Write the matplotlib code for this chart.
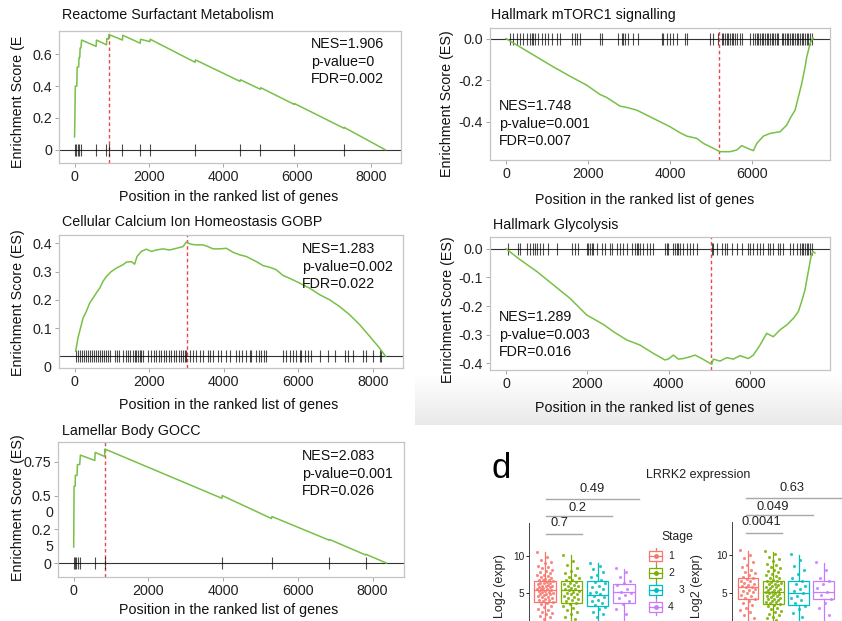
import matplotlib
matplotlib.use("Agg")
import matplotlib.pyplot as plt
import numpy as np
from matplotlib.patches import Rectangle
from matplotlib.colors import LinearSegmentedColormap

plt.rcParams['font.family'] = ['Liberation Sans', 'DejaVu Sans']

# ---------------- GSEA running enrichment scores ----------------
reactome_x = [0, 20, 60, 70, 110, 120, 140, 150, 170, 190, 580, 590, 860, 870, 915, 925,
              1290, 1300, 1770, 1780, 2030, 2040, 3250, 3260, 4460, 4470, 5010, 5020,
              5920, 5930, 7260, 7270, 8370]
reactome_es = [0.08, 0.40, 0.40, 0.52, 0.52, 0.58, 0.58, 0.64, 0.64, 0.69, 0.65, 0.69, 0.66, 0.70,
               0.695, 0.725, 0.69, 0.72, 0.67, 0.695, 0.68, 0.695, 0.55, 0.565, 0.43, 0.44,
               0.38, 0.39, 0.285, 0.29, 0.135, 0.14, 0.0]
reactome_hits = [0, 40, 80, 130, 180, 590, 860, 920, 1290, 1770, 2030, 3250, 4460, 5010, 5920, 7260]

mtorc1_x = [0, 341, 748, 1154, 1561, 1967, 2293, 2455, 2780, 2943, 3187, 3593, 4000, 4244, 4407,
            4650, 4813, 5057, 5219, 5463, 5626, 5748, 5951, 6033, 6114, 6276, 6439, 6683, 6846,
            6927, 7049, 7130, 7211, 7293, 7333, 7415, 7480, 7496]
mtorc1_es = [0, -0.040, -0.088, -0.136, -0.181, -0.224, -0.269, -0.283, -0.325, -0.331, -0.344,
             -0.384, -0.424, -0.453, -0.469, -0.480, -0.504, -0.528, -0.544, -0.544, -0.536,
             -0.515, -0.533, -0.539, -0.504, -0.469, -0.456, -0.448, -0.416, -0.384, -0.344,
             -0.280, -0.216, -0.136, -0.088, -0.024, 0.005, 0.0]
mtorc1_hits = [98, 179, 260, 341, 423, 520, 585, 626, 667, 707, 789, 870, 951, 1033, 1114, 1236,
               1317, 1602, 1683, 1724, 1805, 2293, 2333, 2740, 2821, 2862, 2902, 2984, 3106, 3228,
               3797, 3837, 3919, 4000, 4081, 4163, 4366, 4407, 4976, 5057, 5179, 5260, 5301, 5342,
               5382, 5423, 5463, 5504, 5545, 5585, 5626, 5707, 5748, 5951, 6033, 6073, 6114, 6155,
               6195, 6236, 6276, 6317, 6358, 6398, 6439, 6480, 6520, 6561, 6602, 6642, 6724, 6764,
               6805, 6846, 6886, 6927, 6967, 7008, 7049, 7089, 7130, 7171, 7211, 7252, 7293, 7333,
               7374, 7415, 7455]

calcium_x = [27, 89, 179, 224, 313, 402, 492, 581, 671, 760, 849, 983, 1118, 1296, 1386, 1520,
             1609, 1672, 1788, 1922, 2056, 2190, 2369, 2548, 2727, 2906, 2995, 3129, 3263, 3442,
             3576, 3710, 3889, 4068, 4247, 4425, 4604, 4872, 5051, 5230, 5409, 5588, 5766, 6035,
             6303, 6571, 6839, 7107, 7376, 7644, 7912, 8180, 8341]
calcium_es = [0.018, 0.065, 0.112, 0.135, 0.159, 0.188, 0.206, 0.224, 0.241, 0.265, 0.282, 0.300,
              0.312, 0.324, 0.333, 0.335, 0.326, 0.353, 0.371, 0.379, 0.371, 0.376, 0.380, 0.376,
              0.382, 0.388, 0.404, 0.396, 0.394, 0.394, 0.388, 0.380, 0.380, 0.382, 0.368, 0.359,
              0.353, 0.335, 0.321, 0.315, 0.306, 0.286, 0.276, 0.259, 0.241, 0.218, 0.200, 0.176,
              0.147, 0.112, 0.071, 0.029, 0.0]
calcium_hits = [45, 98, 152, 206, 259, 313, 367, 420, 474, 527, 581, 635, 688, 742, 796, 849, 903,
                957, 1073, 1135, 1189, 1296, 1368, 1430, 1493, 1565, 1609, 1654, 1699, 1743, 1788,
                1833, 1967, 2056, 2119, 2190, 2262, 2324, 2387, 2459, 2530, 2593, 2655, 2727, 2798,
                2861, 2906, 2950, 2977, 3084, 3174, 3263, 3353, 3442, 3576, 3639, 3710, 3844, 3934,
                4068, 4157, 4336, 4407, 4497, 4604, 4694, 4738, 4872, 4944, 5006, 5069, 5140, 5588,
                5677, 5766, 5856, 5945, 6035, 6079, 6169, 6258, 6347, 6571, 6794, 6973, 7241, 7331,
                7465, 7733, 7823, 8001, 8180, 8225]

glyco_x = [0, 344, 754, 1164, 1574, 1984, 2394, 2640, 2968, 3296, 3624, 3911, 3993, 4116, 4239,
           4362, 4526, 4649, 4813, 5059, 5100, 5264, 5428, 5592, 5756, 5961, 6084, 6248, 6412,
           6576, 6740, 6904, 7068, 7191, 7273, 7355, 7437, 7495, 7544, 7601]
glyco_es = [0, -0.038, -0.079, -0.126, -0.173, -0.231, -0.264, -0.289, -0.318, -0.336, -0.365,
            -0.388, -0.385, -0.371, -0.385, -0.383, -0.377, -0.371, -0.383, -0.403, -0.385,
            -0.392, -0.380, -0.385, -0.373, -0.383, -0.371, -0.336, -0.295, -0.307, -0.283,
            -0.266, -0.243, -0.219, -0.184, -0.143, -0.079, -0.033, -0.009, -0.015]
glyco_hits = [57, 303, 344, 508, 590, 672, 713, 754, 836, 918, 1041, 1246, 1615, 1697, 1779, 1984,
              2025, 2066, 2107, 2148, 2230, 2353, 2435, 2558, 2599, 2722, 2804, 2886, 2968, 3091,
              3173, 3214, 3255, 3296, 3378, 3460, 3542, 3624, 3911, 3952, 3993, 4116, 4157, 4198,
              4239, 4280, 4362, 4444, 4526, 4608, 4690, 5059, 5100, 5182, 5305, 5387, 5428, 5551,
              5674, 5797, 5961, 6002, 6084, 6166, 6248, 6330, 6453, 6494, 6576, 6699, 6740, 6822,
              6986, 7068, 7150, 7232, 7273, 7314, 7355, 7396, 7437, 7478, 7519]

lamellar_x = [0, 10, 40, 45, 90, 100, 160, 180, 565, 575, 825, 835, 3965, 3975, 5295, 5305,
              6835, 6845, 7815, 7825, 8370]
lamellar_es = [0.12, 0.57, 0.57, 0.65, 0.65, 0.73, 0.73, 0.80, 0.76, 0.82, 0.79, 0.845, 0.48, 0.50,
               0.33, 0.345, 0.17, 0.175, 0.06, 0.065, 0.0]
lamellar_hits = [0, 30, 60, 110, 180, 570, 830, 3970, 5300, 6840, 7820]

# ---------------- LRRK2 expression by stage ----------------
stages = ['1', '2', '3', '4']
stage_colors = ['#F8766D', '#7CAE00', '#00BFC4', '#C77CFF']

left_q1 = [3.8, 3.7, 3.3, 3.7]
left_med = [5.4, 5.4, 4.7, 5.1]
left_q3 = [6.6, 6.6, 6.6, 6.2]
left_hi = [10.5, 10.1, 9.0, 8.3]
left_lo = [0.4, 0.5, 0.6, 0.9]
left_pvals = ['0.7', '0.2', '0.49']

right_q1 = [4.1, 3.5, 3.4, 4.1]
right_med = [5.8, 5.1, 4.9, 5.1]
right_q3 = [6.9, 6.5, 6.5, 6.5]
right_hi = [10.6, 10.4, 10.0, 9.0]
right_lo = [0.4, 0.3, 0.6, 1.0]
right_pvals = ['0.0041', '0.049', '0.63']

left_pts = [
    [10.6, 9.9, 9.5, 9.2, 9.0, 8.7, 8.5, 8.4, 8.1, 8.0, 7.8, 7.7, 7.5, 7.4, 7.3, 7.1, 7.0, 6.9,
     6.8, 6.8, 6.7, 6.6, 6.5, 6.4, 6.4, 6.3, 6.2, 6.1, 6.0, 6.0, 5.9, 5.8, 5.8, 5.7, 5.6, 5.5,
     5.5, 5.4, 5.3, 5.3, 5.2, 5.1, 5.0, 4.9, 4.9, 4.8, 4.7, 4.6, 4.5, 4.4, 4.3, 4.2, 4.1, 4.0,
     3.9, 3.8, 3.7, 3.5, 3.3, 3.1, 2.9, 2.7, 2.5, 2.3, 2.1, 1.9, 1.7, 1.5],
    [10.2, 9.3, 8.8, 8.4, 8.0, 7.7, 7.4, 7.2, 7.0, 6.8, 6.7, 6.5, 6.4, 6.2, 6.1, 6.0, 5.9, 5.7,
     5.6, 5.5, 5.4, 5.3, 5.2, 5.0, 4.9, 4.8, 4.6, 4.5, 4.3, 4.2, 4.0, 3.9, 3.7, 3.5, 3.2, 3.0,
     2.7, 2.4, 2.1, 1.8, 1.5],
    [9.0, 8.6, 8.2, 7.8, 7.4, 7.1, 6.8, 6.5, 6.3, 6.0, 5.8, 5.5, 5.2, 5.0, 4.8, 4.6, 4.4, 4.1,
     3.9, 3.6, 3.4, 3.1, 2.8, 2.5, 2.1, 1.7],
    [8.4, 7.9, 7.2, 6.6, 6.3, 6.1, 5.6, 5.2, 5.0, 4.7, 4.3, 3.9, 3.5, 2.9, 2.2],
]
right_pts = [
    [10.7, 10.1, 9.6, 9.1, 8.7, 8.4, 8.1, 7.8, 7.6, 7.3, 7.1, 6.9, 6.8, 6.6, 6.5, 6.3, 6.2, 6.0,
     5.9, 5.8, 5.7, 5.5, 5.4, 5.2, 5.1, 4.9, 4.7, 4.5, 4.3, 4.1, 3.9, 3.6, 3.3, 3.0, 2.7, 2.4,
     2.0, 1.6],
    [10.6, 10.2, 9.8, 9.5, 9.2, 8.9, 8.7, 8.5, 8.3, 8.1, 7.9, 7.7, 7.5, 7.3, 7.2, 7.0, 6.9, 6.7,
     6.6, 6.5, 6.4, 6.3, 6.2, 6.1, 6.0, 5.9, 5.8, 5.7, 5.6, 5.5, 5.4, 5.3, 5.2, 5.1, 5.1, 5.0,
     4.9, 4.8, 4.7, 4.6, 4.5, 4.4, 4.3, 4.2, 4.1, 4.0, 3.9, 3.8, 3.7, 3.6, 3.5, 3.4, 3.2, 3.0,
     2.8, 2.6, 2.4, 2.2, 2.0, 1.8, 1.6, 1.4],
    [10.2, 9.4, 8.6, 8.0, 7.5, 7.0, 6.6, 6.2, 5.9, 5.5, 5.2, 4.9, 4.6, 4.3, 4.0, 3.6, 3.2, 2.8,
     2.3, 1.8],
    [9.1, 8.0, 7.0, 6.5, 6.2, 5.6, 5.1, 4.7, 4.2, 3.6, 2.9, 2.0],
]

W, H = 842, 621
fig = plt.figure(figsize=(W / 100, H / 100), dpi=100)
FS = 10.3
GREEN = '#78c046'
PEAK_RED = '#e8474a'


def rect_px(l, t, r, b):
    return [l / W, 1 - b / H, (r - l) / W, (b - t) / H]


def ftext(x, y, s, **kw):
    fig.text(x / W, 1 - y / H, s, **kw)


# background overlay in pixel coordinates (gray fade lower right)
bg = fig.add_axes([0, 0, 1, 1])
bg.set_xlim(0, W)
bg.set_ylim(H, 0)
bg.axis('off')
fade = LinearSegmentedColormap.from_list('fade', ['#ffffff', '#e9e9e9'])
bg.imshow(np.linspace(0, 1, 50)[:, None], cmap=fade, extent=[415, W, 425, 375],
          aspect='auto', zorder=0)
bg.set_xlim(0, W)
bg.set_ylim(H, 0)


def gsea_panel(rect, xlim, ylim, xs, es, hits, peak, yticks, ylabels, xticks,
               title, tpos, ylab, ylpos, xlpos, stats, spos):
    ax = fig.add_axes(rect_px(*rect))
    ax.set_xlim(xlim)
    ax.set_ylim(ylim)
    ax.axhline(0, color='#333333', lw=0.8, zorder=1)
    ax.axvline(peak, color=PEAK_RED, ls=(0, (2.5, 2)), lw=1.0, zorder=1)
    ax.plot(hits, np.zeros(len(hits)), ls='none', marker='|', ms=8.4, mew=0.8,
            color='black', alpha=0.7, zorder=2)
    ax.plot(xs, es, color=GREEN, lw=1.1, zorder=3)
    ax.set_xticks(xticks)
    ax.set_xticklabels([str(v) for v in xticks])
    ax.set_yticks(yticks)
    ax.set_yticklabels(ylabels)
    ax.tick_params(length=3, width=0.6, color='#999999', pad=2, labelsize=FS,
                   labelcolor='#222222')
    for sp in ax.spines.values():
        sp.set_color('#c4c4c4')
        sp.set_linewidth(0.9)
    ftext(tpos[0], tpos[1], title, fontsize=FS, ha='left', va='center', color='#111111')
    ftext(ylpos[0], ylpos[1], ylab, fontsize=FS, rotation=90, ha='center', va='center',
          color='#111111')
    ftext(xlpos[0], xlpos[1], 'Position in the ranked list of genes', fontsize=FS,
          ha='center', va='center', color='#111111')
    for i, s in enumerate(stats):
        ftext(spos[0], spos[1] + i * 17.7, s, fontsize=FS, ha='left', va='center',
              color='#111111')
    return ax


gsea_panel((59, 31, 401, 163), (-420, 8800), (-0.084, 0.747), reactome_x, reactome_es,
           reactome_hits, 925, [0, 0.2, 0.4, 0.6], ['0', '0.2', '0.4', '0.6'],
           [0, 2000, 4000, 6000, 8000], 'Reactome Surfactant Metabolism', (62, 15),
           'Enrichment Score (E', (18, 102), (229, 197),
           ['NES=1.906', 'p-value=0', 'FDR=0.002'], (311, 44))

gsea_panel((490, 28, 830, 160), (-390, 7900), (-0.584, 0.051), mtorc1_x, mtorc1_es,
           mtorc1_hits, 5195, [0, -0.2, -0.4], ['0.0', '-0.2', '-0.4'],
           [0, 2000, 4000, 6000], 'Hallmark mTORC1 signalling', (491, 15),
           'Enrichment Score (ES)', (447, 104), (645, 200),
           ['NES=1.748', 'p-value=0.001', 'FDR=0.007'], (499, 106))

gsea_panel((59, 235, 403, 368), (-420, 8806), (-0.041, 0.429), calcium_x, calcium_es,
           calcium_hits, 3022, [0.1, 0.2, 0.3, 0.4], ['0.1', '0.2', '0.3', '0.4'],
           [0, 2000, 4000, 6000, 8000], 'Cellular Calcium Ion Homeostasis GOBP',
           (62, 222), 'Enrichment Score (ES)', (18, 303), (229, 405),
           ['NES=1.283', 'p-value=0.002', 'FDR=0.022'], (302, 249))
ftext(51, 368, '0', fontsize=FS, ha='right', va='center', color='#222222')

gsea_panel((490, 237, 830, 370), (-394, 7970), (-0.423, 0.041), glyco_x, glyco_es,
           glyco_hits, 5043, [0, -0.1, -0.2, -0.3, -0.4], ['0.0', '-0.1', '-0.2', '-0.3', '-0.4'],
           [0, 2000, 4000, 6000], 'Hallmark Glycolysis', (493, 225),
           'Enrichment Score (ES)', (448, 310), (645, 408),
           ['NES=1.289', 'p-value=0.003', 'FDR=0.016'], (499, 317))

gsea_panel((58, 442, 404, 577), (-420, 8840), (-0.103, 0.897), lamellar_x, lamellar_es,
           lamellar_hits, 830, [0, 0.25, 0.5, 0.75], ['0', '0.2', '0.5', '0.75'],
           [0, 2000, 4000, 6000, 8000], 'Lamellar Body GOCC', (62, 431),
           'Enrichment Score (ES)', (18, 508), (229, 610),
           ['NES=2.083', 'p-value=0.001', 'FDR=0.026'], (302, 456))
ftext(53, 513, '0', fontsize=FS, ha='right', va='center', color='#222222')
ftext(53, 547, '5', fontsize=FS, ha='right', va='center', color='#222222')


# ---------------- panel d: box plots ----------------
def stage_panel(rect, xlim, q1, med, q3, lo, hi, pts, pvals, bx, ylpos):
    ax = fig.add_axes(rect_px(*rect))
    ax.patch.set_alpha(0)
    ax.set_xlim(xlim)
    ax.set_ylim(0, 14.46)
    stats = [dict(q1=a, med=m, q3=b, whislo=l, whishi=h, label=s)
             for a, m, b, l, h, s in zip(q1, med, q3, lo, hi, stages)]
    art = ax.bxp(stats, positions=[1, 2, 3, 4], widths=0.82, showfliers=False,
                 showcaps=False, patch_artist=True)
    for i, c in enumerate(stage_colors):
        art['boxes'][i].set(facecolor='white', edgecolor=c, linewidth=0.9)
        art['medians'][i].set(color=c, linewidth=0.9)
        for w in art['whiskers'][2 * i:2 * i + 2]:
            w.set(color=c, linewidth=0.9)
        vals = np.array(pts[i])
        jit = ((np.arange(len(vals)) * 0.618034) % 1 - 0.5) * 0.62
        ax.scatter(i + 1 + jit, vals, s=5, color=c, alpha=0.85, lw=0, zorder=4)
    for sp in ['top', 'right', 'bottom']:
        ax.spines[sp].set_visible(False)
    ax.spines['left'].set_color('#444444')
    ax.spines['left'].set_linewidth(0.7)
    ax.set_xticks([])
    ax.set_yticks([5, 10])
    ax.tick_params(axis='y', length=2, width=0.6, pad=1.5, labelsize=7.3, labelcolor='#222222')
    for (x0, x1, yb, xt, yt), p in zip(bx, pvals):
        ax.plot([x0, x1], [yb, yb], color='#a8a8a8', lw=1.0, clip_on=False)
        ax.text(xt, yt, p, fontsize=9.3, ha='center', va='center', color='#222222',
                clip_on=False)
    ftext(ylpos, 586, 'Log2 (expr)', fontsize=9, rotation=90, ha='center', va='center',
          color='#222222')
    return ax


stage_panel((529, 523, 650, 630), (0.39, 4.99), left_q1, left_med, left_q3, left_lo, left_hi,
            left_pts, left_pvals,
            [(1.04, 2.4, 12.97, 1.53, 14.46), (1.04, 3.55, 15.4, 2.25, 16.5),
             (1.04, 4.57, 17.7, 2.79, 19.05)], 500)
stage_panel((732, 522, 860, 630), (0.37, 5.43), right_q1, right_med, right_q3, right_lo,
            right_hi, right_pts, right_pvals,
            [(0.92, 2.34, 12.97, 1.55, 14.46), (0.92, 3.57, 15.4, 1.99, 16.5),
             (0.92, 5.2, 17.7, 2.74, 19.05)], 697)

ftext(501, 478, 'd', fontsize=25, ha='center', va='baseline', color='black')
ftext(698, 475, 'LRRK2 expression', fontsize=9, ha='center', va='center', color='#222222')

# legend drawn in the pixel overlay
ftext(677, 537, 'Stage', fontsize=8.7, ha='center', va='center', color='#222222')
key_rows = [556, 573, 590, 607]
label_x = [668, 668, 679, 668]
for c, s, cy, lx in zip(stage_colors, stages, key_rows, label_x):
    bg.add_patch(Rectangle((649, cy - 5), 13, 10, fill=False, edgecolor=c, lw=0.9, zorder=2))
    bg.plot([649, 662], [cy, cy], color=c, lw=0.9, zorder=2)
    bg.plot([655.5, 655.5], [cy - 8, cy - 5], color=c, lw=0.9, zorder=2)
    bg.plot([655.5, 655.5], [cy + 5, cy + 8], color=c, lw=0.9, zorder=2)
    bg.plot([655.5], [cy], marker='o', ms=2.5, color=c, zorder=3)
    ftext(lx, cy, s, fontsize=7.5, ha='left', va='center', color='#222222')

fig.savefig('out.png', dpi=100)
